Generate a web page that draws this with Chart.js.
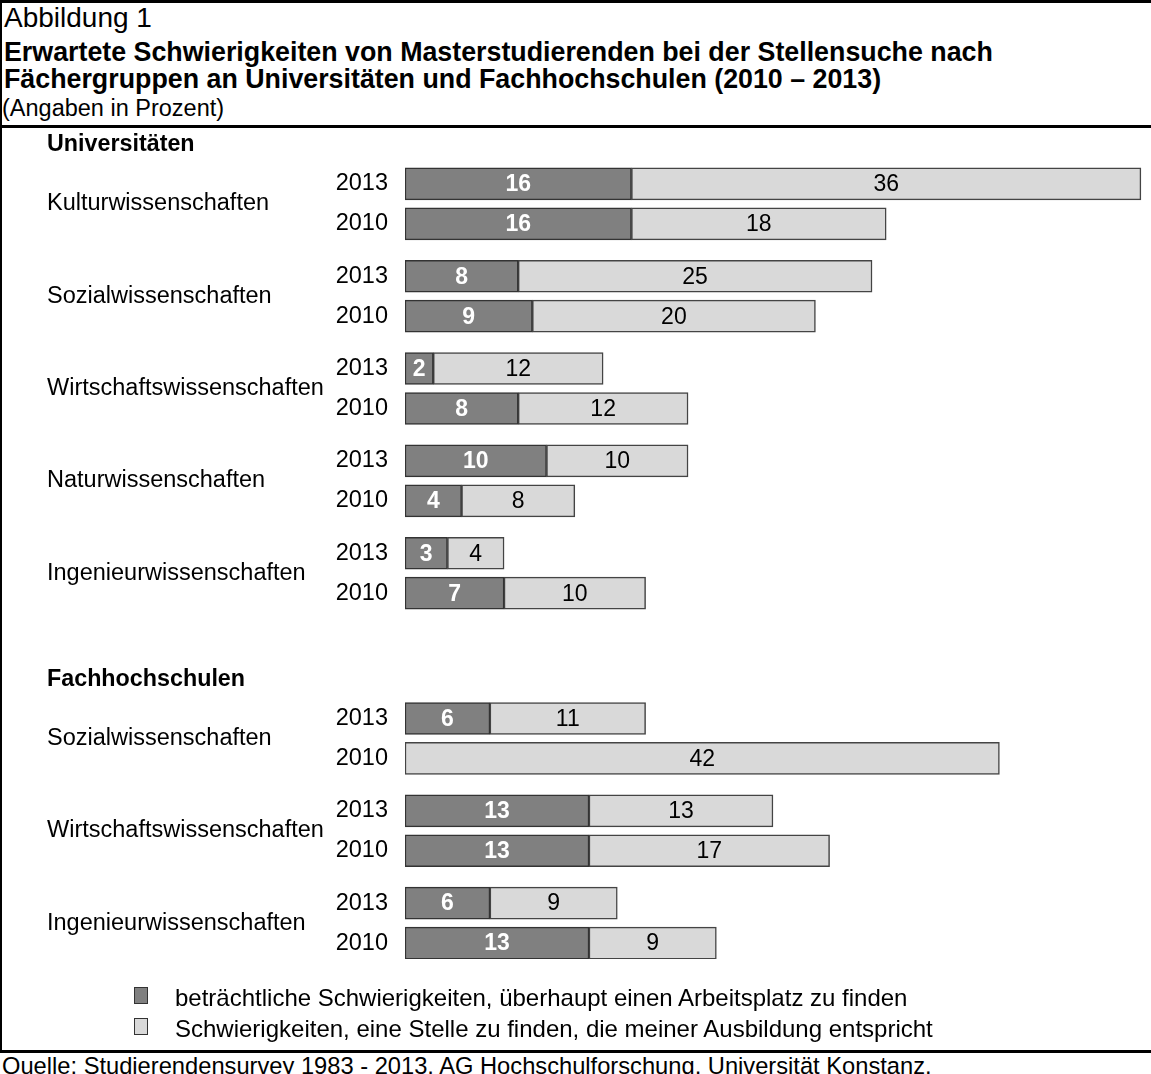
<!DOCTYPE html>
<html>
<head>
<meta charset="utf-8">
<script src="https://cdn.jsdelivr.net/npm/chart.js@4"></script>
<style>
  body { margin: 0; background: #fff; font-family: "Liberation Sans", Arial, sans-serif; color: #000; }
  #frame { position: relative; width: 1151px; height: 1074px; overflow: hidden; }
  .rule { position: absolute; background: #000; }
  .txt { position: absolute; white-space: nowrap; line-height: 1; }
  #chartBox { position: absolute; left: 0; top: 130px; width: 1151px; height: 860px; }
  .legItem { position: absolute; left: 134px; font-size: 24px; }
  .legItem span.box { position: absolute; left: 0; top: 0; width: 14px; height: 17px; border: 1px solid #333; box-sizing: border-box; }
  .legItem span.lab { position: absolute; left: 41px; top: -3px; white-space: nowrap; }
</style>
</head>
<body>
<div id="frame">
  <div class="rule" style="left:0;top:0;width:1151px;height:3px"></div>
  <div class="rule" style="left:0;top:0;width:2px;height:1053px"></div>
  <div class="rule" style="left:0;top:125px;width:1151px;height:3px"></div>
  <div class="rule" style="left:0;top:1050px;width:1151px;height:3px"></div>

  <div class="txt" style="left:4px;top:4px;font-size:28px">Abbildung 1</div>
  <div class="txt" style="left:4px;top:39px;font-size:26.8px;font-weight:bold">Erwartete Schwierigkeiten von Masterstudierenden bei der Stellensuche nach</div>
  <div class="txt" style="left:4px;top:66px;font-size:26.8px;font-weight:bold">Fächergruppen an Universitäten und Fachhochschulen (2010 – 2013)</div>
  <div class="txt" style="left:2px;top:97px;font-size:23.5px">(Angaben in Prozent)</div>

  <div id="chartBox"><canvas id="chart"></canvas></div>

  <div class="legItem" style="top:987px"><span class="box" style="background:#808080"></span><span class="lab" id="leg0"></span></div>
  <div class="legItem" style="top:1018px"><span class="box" style="background:#d9d9d9"></span><span class="lab" id="leg1"></span></div>

  <div class="txt" style="left:2px;top:1055px;font-size:23.7px">Quelle: Studierendensurvey 1983 - 2013, AG Hochschulforschung, Universität Konstanz.</div>
</div>

<script>
// Daten
const years = ["2013", "2010"];
const seriesNames = [
  "beträchtliche Schwierigkeiten, überhaupt einen Arbeitsplatz zu finden",
  "Schwierigkeiten, eine Stelle zu finden, die meiner Ausbildung entspricht"
];

const uniGroups = ["Kulturwissenschaften", "Sozialwissenschaften", "Wirtschaftswissenschaften", "Naturwissenschaften", "Ingenieurwissenschaften"];
const uniStrong2013 = [16, 8, 2, 10, 3];
const uniStrong2010 = [16, 9, 8, 4, 7];
const uniJob2013    = [36, 25, 12, 10, 4];
const uniJob2010    = [18, 20, 12, 8, 10];

const fhGroups = ["Sozialwissenschaften", "Wirtschaftswissenschaften", "Ingenieurwissenschaften"];
const fhStrong2013 = [6, 13, 6];
const fhStrong2010 = [null, 13, 13];
const fhJob2013    = [11, 13, 9];
const fhJob2010    = [42, 17, 9];

// Zeilenlayout (Einheiten der y-Achse, 1 = Abstand 2013 -> 2010)
const PAIR_STEP = 2.31;
const sections = [
  { title: "Universitäten", start: 0, groups: uniGroups,
    strong: [uniStrong2013, uniStrong2010], job: [uniJob2013, uniJob2010] },
  { title: "Fachhochschulen", start: 13.375, groups: fhGroups,
    strong: [fhStrong2013, fhStrong2010], job: [fhJob2013, fhJob2010] }
];

const rowPos = [], rowYear = [], strongData = [], jobData = [], groupLabels = [], sectionLabels = [];
sections.forEach(sec => {
  sectionLabels.push({ text: sec.title, pos: sec.start - 0.975 });
  sec.groups.forEach((g, gi) => {
    const base = sec.start + gi * PAIR_STEP;
    groupLabels.push({ text: g, pos: base + 0.5 });
    years.forEach((yr, yi) => {
      const pos = base + yi;
      rowPos.push(pos);
      rowYear.push(yr);
      strongData.push({ x: sec.strong[yi][gi], y: pos });
      jobData.push({ x: sec.job[yi][gi], y: pos });
    });
  });
});

document.getElementById("leg0").textContent = seriesNames[0];
document.getElementById("leg1").textContent = seriesNames[1];

const FONT = '"Liberation Sans", Arial, sans-serif';

// Werte in den Balken
const valueLabels = {
  id: "valueLabels",
  afterDatasetsDraw(chart) {
    const ctx = chart.ctx;
    ctx.save();
    ctx.textAlign = "center";
    ctx.textBaseline = "middle";
    chart.data.datasets.forEach((ds, di) => {
      const meta = chart.getDatasetMeta(di);
      meta.data.forEach((bar, i) => {
        const v = ds.data[i].x;
        if (v == null) return;
        if (di === 0) { ctx.fillStyle = "#fff"; ctx.font = "bold 23px " + FONT; }
        else { ctx.fillStyle = "#000"; ctx.font = "23px " + FONT; }
        ctx.fillText(String(v), (bar.x + bar.base) / 2, bar.y + 1);
      });
    });
    ctx.restore();
  }
};

// Fächergruppen und Hochschularten links
const sideLabels = {
  id: "sideLabels",
  afterDraw(chart) {
    const ctx = chart.ctx;
    const y = chart.scales.y;
    ctx.save();
    ctx.textAlign = "left";
    ctx.textBaseline = "middle";
    ctx.fillStyle = "#000";
    ctx.font = "23.5px " + FONT;
    groupLabels.forEach(l => ctx.fillText(l.text, 47, y.getPixelForValue(l.pos)));
    ctx.font = "bold 23.3px " + FONT;
    sectionLabels.forEach(l => ctx.fillText(l.text, 47, y.getPixelForValue(l.pos)));
    ctx.restore();
  }
};

new Chart(document.getElementById("chart"), {
  type: "bar",
  data: {
    datasets: [
      { label: seriesNames[0], data: strongData, backgroundColor: "#808080", borderColor: "#333", borderWidth: 1.5, borderSkipped: false },
      { label: seriesNames[1], data: jobData, backgroundColor: "#d9d9d9", borderColor: "#444", borderWidth: 1.5, borderSkipped: false }
    ]
  },
  options: {
    indexAxis: "y",
    responsive: true,
    maintainAspectRatio: false,
    animation: false,
    barThickness: 32,
    layout: { padding: { left: 0, right: 3, top: 0, bottom: 0 } },
    plugins: { legend: { display: false }, tooltip: { enabled: false } },
    scales: {
      x: { stacked: true, min: 0, max: 52.5, display: false },
      y: {
        type: "linear",
        stacked: true,
        reverse: true,
        offset: false,
        bounds: "data",
        min: -0.57,
        max: 19.39,
        grid: { display: false, drawTicks: false },
        border: { display: false },
        afterBuildTicks: axis => { axis.ticks = rowPos.map(v => ({ value: v })); },
        afterFit: axis => { axis.width = 405; },
        ticks: {
          autoSkip: false,
          padding: 17,
          color: "#000",
          font: { family: FONT, size: 23.5 },
          callback: (value, index) => rowYear[index]
        }
      }
    }
  },
  plugins: [valueLabels, sideLabels]
});
</script>
</body>
</html>
